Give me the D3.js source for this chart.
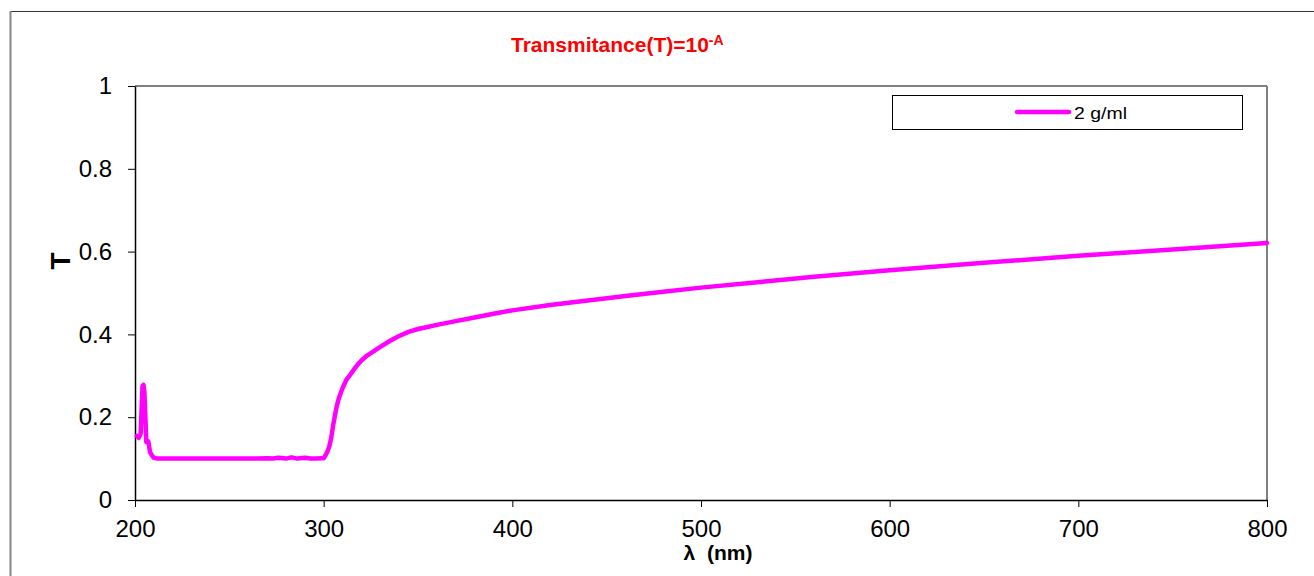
<!DOCTYPE html>
<html>
<head>
<meta charset="utf-8">
<script src="https://cdn.jsdelivr.net/npm/d3@7"></script>
<style>
  html, body { margin: 0; padding: 0; background: #fff; }
  svg { display: block; font-family: "Liberation Sans", Arial, sans-serif; }
</style>
</head>
<body>
<svg id="chart" width="1314" height="576"></svg>
<script>
// ---- data ----
const wavelength = [201, 202, 203, 203.5, 204, 204.5, 205, 205.5, 206, 207, 208, 209, 210, 212, 215, 220, 230, 240, 250, 260, 265, 270, 273, 276, 280, 283, 286, 290, 293, 296, 299, 300, 301, 302, 303, 304, 305, 306, 307, 308, 309, 310, 312, 314, 316, 318, 320, 323, 326, 330, 335, 340, 345, 350, 355, 360, 370, 380, 390, 400, 420, 440, 460, 480, 500, 530, 560, 600, 650, 700, 750, 800];
const transmittance = [0.155, 0.15, 0.16, 0.22, 0.275, 0.278, 0.26, 0.2, 0.14, 0.142, 0.115, 0.108, 0.102, 0.1, 0.1, 0.1, 0.1, 0.1, 0.1, 0.1, 0.1, 0.101, 0.1, 0.102, 0.1, 0.103, 0.1, 0.102, 0.1, 0.1, 0.101, 0.101, 0.108, 0.117, 0.13, 0.15, 0.18, 0.205, 0.228, 0.245, 0.258, 0.27, 0.29, 0.302, 0.315, 0.327, 0.337, 0.349, 0.358, 0.37, 0.384, 0.396, 0.406, 0.413, 0.418, 0.423, 0.432, 0.441, 0.45, 0.458, 0.471, 0.482, 0.493, 0.503, 0.513, 0.526, 0.539, 0.555, 0.573, 0.59, 0.605, 0.621];
const xTicks = [200, 300, 400, 500, 600, 700, 800];
const yTicks = [0, 0.2, 0.4, 0.6, 0.8, 1];
const seriesName = "2 g/ml";

// ---- layout ----
const svg = d3.select("#chart");
const pL = 135, pR = 1267, pT = 86, pB = 500;
const x = d3.scaleLinear().domain([200, 800]).range([pL, pR]);
const y = d3.scaleLinear().domain([0, 1]).range([pB, pT]);

// outer chart frame (partially visible)
svg.append("line").attr("x1", 10).attr("x2", 1314).attr("y1", 11.5).attr("y2", 11.5)
  .attr("stroke", "#333").attr("stroke-width", 1.2);
svg.append("line").attr("x1", 10.5).attr("x2", 10.5).attr("y1", 11).attr("y2", 576)
  .attr("stroke", "#888").attr("stroke-width", 2);

// plot area border (top & right gray)
svg.append("line").attr("x1", pL).attr("x2", pR).attr("y1", pT).attr("y2", pT)
  .attr("stroke", "#808080").attr("stroke-width", 2);
svg.append("line").attr("x1", pR).attr("x2", pR).attr("y1", pT).attr("y2", pB)
  .attr("stroke", "#808080").attr("stroke-width", 2);

// axes
const xAxis = d3.axisBottom(x).tickValues(xTicks).tickSize(7).tickSizeOuter(0).tickPadding(13).tickFormat(d3.format("d"));
const yAxis = d3.axisLeft(y).tickValues(yTicks).tickSize(7).tickSizeOuter(0).tickPadding(16).tickFormat(d => String(d));

const gx = svg.append("g").attr("transform", `translate(0,${pB})`).call(xAxis);
const gy = svg.append("g").attr("transform", `translate(${pL},0)`).call(yAxis);
[gx, gy].forEach(g => {
  g.select(".domain").attr("stroke", "#000").attr("stroke-width", 1.5);
  g.selectAll(".tick line").attr("stroke", "#000").attr("stroke-width", 1);
  g.selectAll(".tick text").attr("fill", "#000").style("font-size", "24px")
    .style("font-family", "'Liberation Sans', Arial, sans-serif");
});

// line
const line = d3.line().x((d, i) => x(wavelength[i])).y(d => y(d));
svg.append("path").datum(transmittance)
  .attr("d", line)
  .attr("fill", "none").attr("stroke", "#FF00FF").attr("stroke-width", 4.5)
  .attr("stroke-linejoin", "round").attr("stroke-linecap", "round");

// title
const title = svg.append("text").attr("x", 511).attr("y", 52)
  .attr("fill", "#FF0000").style("font-weight", "bold").style("font-size", "21px");
title.append("tspan").text("Transmitance(T)=10");
title.append("tspan").attr("dy", -7).style("font-size", "14px").text("-A");

// axis titles
svg.append("text").attr("x", 718).attr("y", 560).attr("text-anchor", "middle")
  .style("font-weight", "bold").style("font-size", "21px").attr("fill", "#000")
  .attr("xml:space", "preserve").text("λ  (nm)");
svg.append("text").attr("transform", "translate(70,261) rotate(-90)").attr("text-anchor", "middle")
  .style("font-weight", "bold").style("font-size", "28px").attr("fill", "#000").text("T");

// legend
svg.append("rect").attr("x", 892.5).attr("y", 95.5).attr("width", 350).attr("height", 34)
  .attr("fill", "#fff").attr("stroke", "#000").attr("stroke-width", 1);
svg.append("line").attr("x1", 1017).attr("x2", 1069).attr("y1", 112).attr("y2", 112)
  .attr("stroke", "#FF00FF").attr("stroke-width", 4.5).attr("stroke-linecap", "round");
svg.append("text").attr("x", 1074).attr("y", 119).style("font-size", "16px").attr("fill", "#000")
  .attr("textLength", 53).attr("lengthAdjust", "spacingAndGlyphs").text(seriesName);
</script>
</body>
</html>
